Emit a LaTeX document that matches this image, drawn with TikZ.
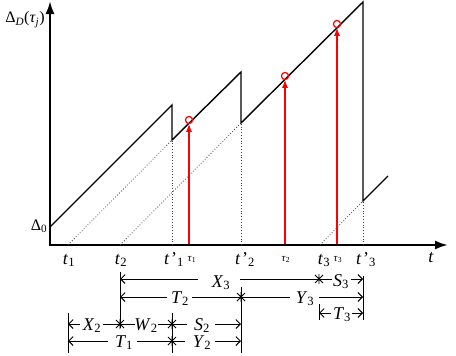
\documentclass[tikz,border=0pt]{standalone}
\usepackage{fontspec}
\setmainfont{Liberation Serif}
\usetikzlibrary{arrows.meta}
\newcommand\lsub[2]{\textit{#1}\textsubscript{#2}}
\newcommand\tpr[1]{\textit{t}\kern1.5pt\char"27\textsubscript{#1}}
\newcommand\astx[1]{\draw[dim] (#1) +(-4,-4) -- +(4,4) (#1) +(-4,4) -- +(4,-4) (#1) +(0,-5) -- +(0,5);}
\begin{document}
\begin{tikzpicture}[x=1pt,y=-1pt,
  axis/.style={line width=2.2pt,-{Latex[length=13pt,width=9pt]}},
  saw/.style={line width=1.4pt},
  dots/.style={dotted, line width=0.8pt, black!75},
  redl/.style={draw=red, line width=1.1pt, -{Latex[length=8pt,width=6pt]}},
  redc/.style={draw=red, line width=1.2pt},
  dim/.style={line width=0.9pt},
  dimarr/.style={dim, -{Straight Barb[length=4.5pt,width=9pt]}},
  lab/.style={font=\fontsize{18}{20}\selectfont, inner sep=0pt, anchor=base},
  slab/.style={font=\fontsize{11}{13}\selectfont, inner sep=0pt, anchor=base}]
\useasboundingbox (0,0) rectangle (456,356);
% axes
\coordinate (O) at (50,245);
\coordinate (Ytop) at (50,1);
\coordinate (Xend) at (448,245);
\draw[axis] (50,246.1) -- (Ytop);
\draw[axis] (48.9,245) -- (Xend);
% sawtooth
\coordinate (s0) at (50,227);
\coordinate (p1) at (172,105);
\coordinate (q1) at (172,140);
\coordinate (p2) at (241,72);
\coordinate (q2) at (241,123);
\coordinate (p3) at (363,2);
\coordinate (q3) at (363,201);
\coordinate (s4) at (388,176);
\draw[saw] (s0) -- (p1) -- (q1) -- (p2) -- (q2) -- (p3) -- (q3) -- (s4);
% dotted
\coordinate (t1) at (68,245);
\coordinate (t2) at (120,245);
\coordinate (t3) at (320,245);
\coordinate (tp1) at (172,245);
\coordinate (tp2) at (241,245);
\coordinate (tp3) at (363,245);
\draw[dots] (t1) -- (q1) (t2) -- (q2) (t3) -- (q3);
\draw[dots] (tp1) -- (q1) (tp2) -- (q2) (tp3) -- (q3);
% red arrows
\foreach \x/\y in {189/120, 285/76, 337/24}{
  \draw[redl] (\x,243.8) -- (\x,\y+3.8);
  \draw[redc] (\x,\y) circle (3.6);
}
% axis labels
\node[font=\fontsize{16}{18}\selectfont, inner sep=0pt, anchor=base] at (25,23) {Δ\textsubscript{\textit{D}}(\textit{τ}\textsubscript{\textit{j}})};
\node[font=\fontsize{16}{18}\selectfont, inner sep=0pt, anchor=base] at (39,230) {Δ\textsubscript{0}};
\node[lab] at (69,264) {\lsub{t}{1}};
\node[lab] at (121,264) {\lsub{t}{2}};
\node[lab] at (174,264) {\tpr{1}};
\node[slab] at (192,261) {\lsub{τ}{1}};
\node[lab] at (245,264) {\tpr{2}};
\node[slab] at (286,261) {\lsub{τ}{2}};
\node[lab] at (324,264) {\lsub{t}{3}};
\node[slab] at (338,261) {\lsub{τ}{3}};
\node[lab] at (366,264) {\tpr{3}};
\node[lab] at (431,262) {\textit{t}};
% dimension verticals
\draw[dim] (120,272) -- (120,328);
\draw[dim] (241,287) -- (241,353);
\draw[dim] (363,276) -- (363,320);
\draw[dim] (68,313) -- (68,353);
\draw[dim] (172,313) -- (172,353);
\draw[dim] (319,304) -- (319,320);
% row X3 / S3
\draw[dimarr] (198,279) -- (120,279);
\node[lab] at (221,287) {\lsub{X}{3}};
\draw[dim] (240,279) -- (319,279);
\astx{319,279}
\draw[dim] (319,279) -- (332,279);
\node[lab] at (341,286) {\lsub{S}{3}};
\draw[dimarr] (351,279) -- (363,279);
% row T2 / Y3
\draw[dimarr] (167,297) -- (120,297);
\node[lab] at (180,303) {\lsub{T}{2}};
\draw[dim] (192,297) -- (290,297);
\astx{241,297}
\node[lab] at (305,303) {\lsub{Y}{3}};
\draw[dimarr] (319,297) -- (363,297);
% row T3
\draw[dimarr] (331,313) -- (319,313);
\node[lab] at (342,319) {\lsub{T}{3}};
\draw[dimarr] (352,313) -- (363,313);
% row X2 W2 S2
\draw[dimarr] (80,324) -- (68,324);
\node[lab] at (92,330) {\lsub{X}{2}};
\draw[dim] (103,324) -- (135,324);
\astx{120,324}
\node[lab] at (146,330) {\lsub{W}{2}};
\draw[dim] (158,324) -- (187,324);
\astx{172,324}
\node[lab] at (202,330) {\lsub{S}{2}};
\draw[dimarr] (215,324) -- (241,324);
% row T1 Y2
\draw[dimarr] (108,341) -- (68,341);
\node[lab] at (124,347) {\lsub{T}{1}};
\draw[dim] (137,341) -- (185,341);
\astx{172,341}
\node[lab] at (202,347) {\lsub{Y}{2}};
\draw[dimarr] (215,341) -- (241,341);
\end{tikzpicture}
\end{document}
